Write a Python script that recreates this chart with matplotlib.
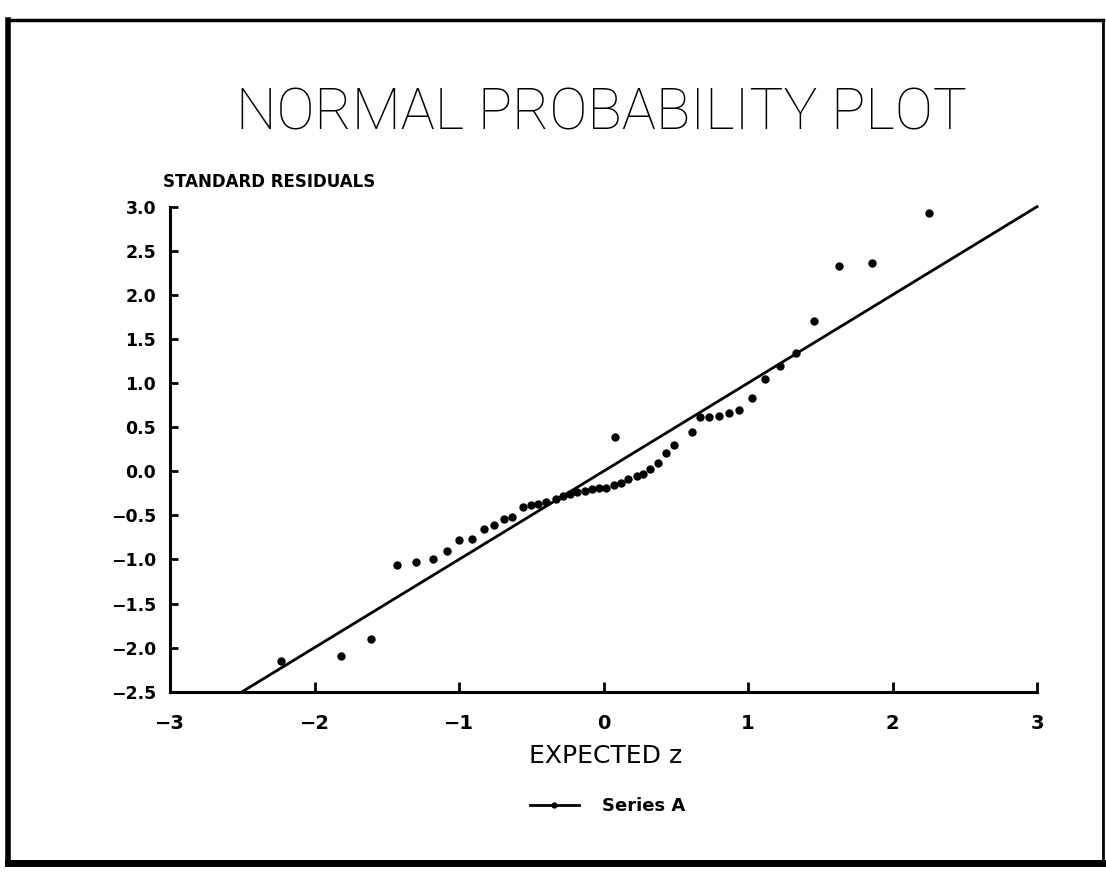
import matplotlib
matplotlib.use('Agg')
import matplotlib.pyplot as plt
from matplotlib.lines import Line2D
import numpy as npy

#--------------------------------------------------------------#
# dados (z esperado x residuo padronizado)
expected_z = [-2.23, -1.82, -1.61, -1.43, -1.30, -1.18, -1.08, -1.00, -0.91, -0.83,
              -0.76, -0.69, -0.63, -0.56, -0.50, -0.45, -0.40, -0.33, -0.28, -0.23,
              -0.18, -0.13, -0.08, -0.03, 0.02, 0.07, 0.08, 0.12, 0.17, 0.23,
              0.27, 0.32, 0.38, 0.43, 0.49, 0.61, 0.67, 0.73, 0.80, 0.87,
              0.94, 1.03, 1.12, 1.22, 1.33, 1.46, 1.63, 1.86, 2.25]
std_resid = [-2.15, -2.09, -1.90, -1.06, -1.03, -1.00, -0.91, -0.78, -0.77, -0.65,
             -0.61, -0.54, -0.52, -0.40, -0.38, -0.37, -0.35, -0.31, -0.28, -0.26,
             -0.24, -0.22, -0.20, -0.19, -0.19, -0.16, 0.39, -0.13, -0.09, -0.05,
             -0.03, 0.02, 0.09, 0.21, 0.30, 0.44, 0.61, 0.62, 0.63, 0.66,
             0.70, 0.83, 1.05, 1.19, 1.34, 1.70, 2.33, 2.36, 2.93]

# reta de referencia
fit_z = [-2.5, 3.0]
fit_resid = [-2.5, 3.0]

x_ticks = [-3, -2, -1, 0, 1, 2, 3]
y_ticks = [-2.5, -2.0, -1.5, -1.0, -0.5, 0.0, 0.5, 1.0, 1.5, 2.0, 2.5, 3.0]

title = 'NORMAL PROBABILITY PLOT'
y_title = 'STANDARD RESIDUALS'
x_title = 'EXPECTED z'
series_name = 'Series A'

#--------------------------------------------------------------#
plt.rcParams['font.family'] = ['DejaVu Sans']
W, H = 1106, 883
fig = plt.figure(figsize=(W/100, H/100), dpi=100)
fig.patch.set_facecolor('white')

ax = fig.add_axes([170/W, 1-691.7/H, 867/W, 485/H])
ax.plot(fit_z, fit_resid, color='black', lw=2.0, clip_on=False)
ax.plot(expected_z, std_resid, 'o', color='black', ms=5, clip_on=False)

ax.set_xlim(-3, 3)
ax.set_ylim(-2.5, 3.0)
ax.set_xticks(x_ticks)
ax.set_yticks(y_ticks)
ax.spines['top'].set_visible(False)
ax.spines['right'].set_visible(False)
for s in ['left', 'bottom']:
    ax.spines[s].set_linewidth(2.2)
ax.tick_params(axis='both', direction='in', width=2.0, color='black')
ax.tick_params(axis='y', length=6, pad=10, labelsize=12.5)
ax.tick_params(axis='x', length=7.5, pad=16, labelsize=14)
for lab in ax.get_xticklabels() + ax.get_yticklabels():
    lab.set_fontweight('bold')
ax.patch.set_alpha(0)

# textos
fig.text(601/W, 1-130/H, title, ha='center', va='baseline', fontsize=41,
         family=['Roboto', 'DejaVu Sans'], fontweight='light')
fig.text(163/W, 1-186.7/H, y_title, ha='left', va='baseline', fontsize=12,
         fontweight='bold')
fig.text(606/W, 1-763.3/H, x_title, ha='center', va='baseline', fontsize=18)

# legenda
handle = Line2D([], [], color='black', lw=2.0, marker='o', ms=3.5)
leg = fig.legend([handle], [series_name], loc='center left',
                 bbox_to_anchor=(530/W, 1-806/H), frameon=False,
                 borderpad=0, borderaxespad=0, handlelength=2.7,
                 handletextpad=1.3, prop={'size': 13, 'weight': 'bold'})

# moldura da pagina
fig.add_artist(Line2D([8/W, 1103/W], [1-20/H, 1-20/H], color='black', lw=2.5))
fig.add_artist(Line2D([8/W, 8/W], [1-20/H, 1-863/H], color='black', lw=4))
fig.add_artist(Line2D([1103/W, 1103/W], [1-20/H, 1-863/H], color='black', lw=2))
fig.add_artist(Line2D([8/W, 1103/W], [1-863/H, 1-863/H], color='black', lw=5))

fig.savefig('out.png', dpi=100)
